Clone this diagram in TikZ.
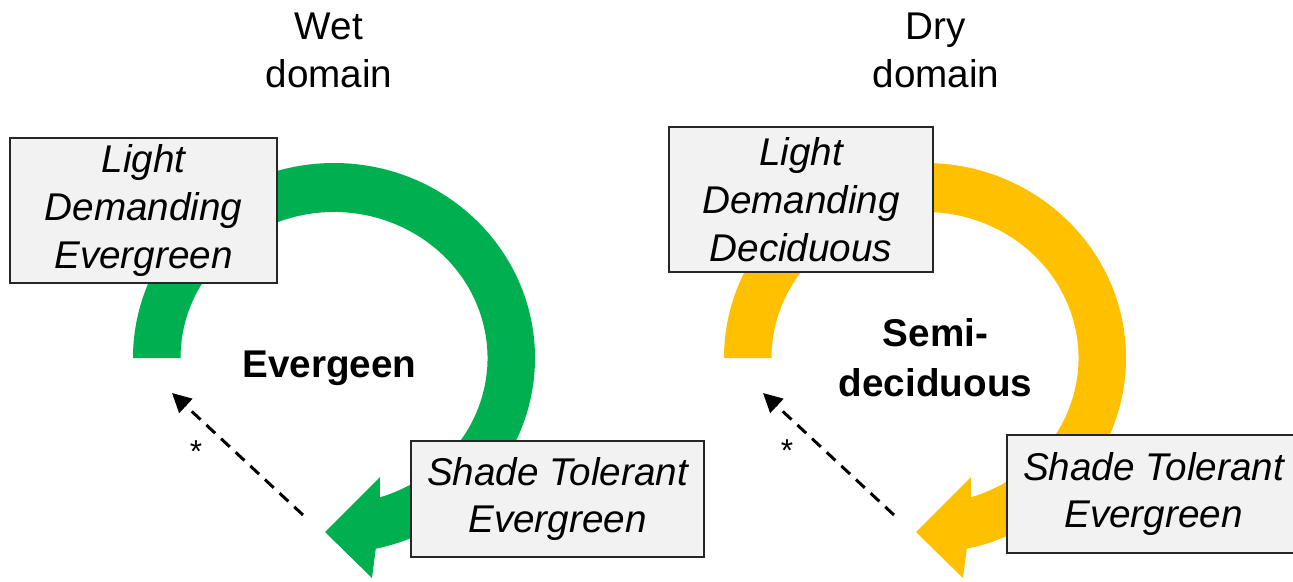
\documentclass[tikz,border=0pt]{standalone}
\usepackage{fontspec}
\setmainfont{Liberation Sans}
\usetikzlibrary{positioning, arrows.meta}
\definecolor{wetgreen}{RGB}{0,176,80}
\definecolor{drygold}{RGB}{255,192,0}
\definecolor{boxgray}{RGB}{242,242,242}

\begin{document}
\begin{tikzpicture}[
  font=\fontsize{22}{27.2}\selectfont,
  guild/.style   ={draw=black!85, fill=boxgray, line width=0.7pt, align=center, inner sep=0pt, minimum height=2.9cm, font=\fontsize{22}{27.2}\selectfont\itshape},
  heading/.style ={align=center},
  habit/.style   ={align=center, font=\fontsize{22}{28.4}\selectfont\bfseries},
  dashflow/.style={-{Triangle[length=3.8mm, width=3.8mm]}, line width=1.7pt, dash pattern=on 2.4mm off 1.6mm},
  note/.style    ={font=\fontsize{18}{18}\selectfont, inner sep=0pt},
]
\useasboundingbox (0,0) rectangle (25.86,11.62);
\clip (0,0) rectangle (25.86,11.62);

\coordinate (wetc) at (6.68,4.46);
\coordinate (dryc) at (18.50,4.46);

% the two cycles
\foreach \ctr/\col in {wetc/wetgreen, dryc/drygold}
  \fill[\col] ([shift={(180:4.02 and 3.9)}]\ctr) arc[start angle=180, end angle=-78, x radius=4.02, y radius=3.9]
    -- ([shift={(0.76,-4.40)}]\ctr) -- ([shift={(-0.18,-3.48)}]\ctr) -- ([shift={(0.92,-2.38)}]\ctr)
    -- ([shift={(-72.6:3.07 and 2.92)}]\ctr) arc[start angle=-72.6, end angle=180, x radius=3.07, y radius=2.92] -- cycle;

\node[heading] (wet) at (6.58,10.62) {Wet\\domain};
\node[heading] (dry) at (18.72,10.62) {Dry\\domain};

\node[guild, minimum width=5.34cm] (ldev) at (2.87,7.41) {Light\\Demanding\\Evergreen};
\node[guild, minimum width=5.86cm, minimum height=2.32cm] (stwet) at (11.15,1.64) {Shade Tolerant\\Evergreen};
\node[guild, minimum width=5.28cm] (lddec) at (16.02,7.63) {Light\\Demanding\\Deciduous};
\node[guild, minimum width=5.86cm, minimum height=2.36cm] (stdry) at (23.07,1.74) {Shade Tolerant\\Evergreen};

\node[habit, anchor=base] (evg) at (6.59,4.08) {Evergeen};
\node[habit] (semi) at (18.71,4.46) {Semi-\\deciduous};

\coordinate (wetfrom) at (6.06,1.32);
\coordinate (wetto) at (3.44,3.76);
\coordinate (dryfrom) at (17.88,1.32);
\coordinate (dryto) at (15.26,3.76);
\foreach \a/\b in {wetfrom/wetto, dryfrom/dryto}
  \draw[dashflow] (\a) -- (\b);
\node[note] (wetstar) at (3.92,2.58) {*};
\node[note] (drystar) at (15.74,2.60) {*};
\end{tikzpicture}
\end{document}
